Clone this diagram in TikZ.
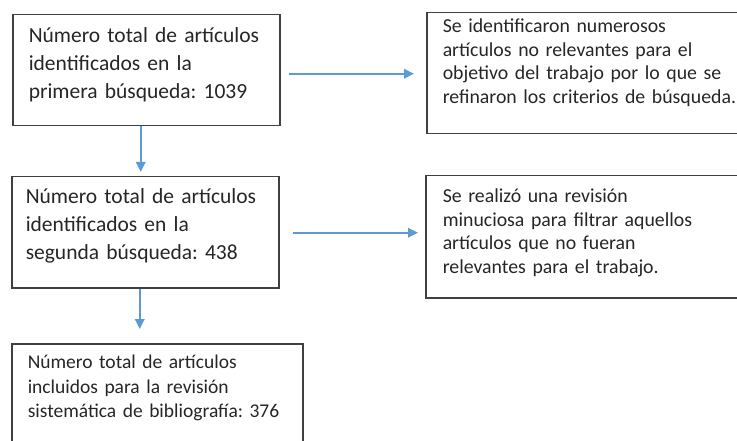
\documentclass[tikz,border=0pt]{standalone}
\usepackage{fontspec}
\setmainfont{Carlito}
\frenchspacing
\usetikzlibrary{arrows.meta}
\definecolor{arrowblue}{HTML}{5B9BD5}
\definecolor{boxgray}{HTML}{404040}

\begin{document}
\begin{tikzpicture}
  [x=1pt,y=-1pt,
   every node/.style={draw=boxgray,line width=1.5pt,anchor=north west,align=left,inner ysep=0pt,inner xsep=16pt,text=black!85},
   big/.style={font=\fontsize{21.5}{28}\selectfont},
   small/.style={font=\fontsize{19.8}{23.5}\selectfont},
   flow/.style={draw=arrowblue,line width=1.8pt,-{Triangle[length=10pt,width=9.5pt]}}]
  \clip (0,0) rectangle (737,441);
  \node[big,text width=235pt,text height=28pt,text depth=83pt] (b1) at (12,14)
    {Número total de artículos\\identificados en la\\primera búsqueda: 1039};
  \node[big,inner xsep=14pt,text width=239pt,text height=27pt,text depth=84pt] (b2) at (11,176)
    {Número total de artículos\\identificados en la\\segunda búsqueda: 438};
  \node[font=\fontsize{19.5}{24.5}\selectfont,text width=259pt,text height=25pt,text depth=100pt] (b3) at (11,343)
    {Número total de artículos\\incluidos para la revisión\\sistemática de bibliografía: 376};
  \node[small,text width=400pt,text height=20pt,text depth=101pt] (b4) at (426,12)
    {Se identificaron numerosos\\artículos no relevantes para el\\objetivo del trabajo por lo que se\\refinaron los criterios de búsqueda.};
  \node[small,inner xsep=17pt,text width=400pt,text height=27pt,text depth=95pt] (b5) at (425,175)
    {Se realizó una revisión\\minuciosa para filtrar aquellos\\artículos que no fueran\\relevantes para el trabajo.};
  \foreach \from/\to/\gap in {b1/b2/4,b2/b3/14}
    \draw[flow,shorten >=\gap pt] ([xshift=-5.5pt]\from.south) -- ([xshift=-5.5pt]\from.south |- \to.north);
  \draw[flow,shorten <=8pt,shorten >=12pt] ([yshift=-3.5pt]b1.east) -- ([yshift=-3.5pt]b1.east -| b4.west);
  \draw[flow,shorten <=13pt,shorten >=7pt] ([yshift=-0.5pt]b2.east) -- ([yshift=-0.5pt]b2.east -| b5.west);
\end{tikzpicture}
\end{document}
